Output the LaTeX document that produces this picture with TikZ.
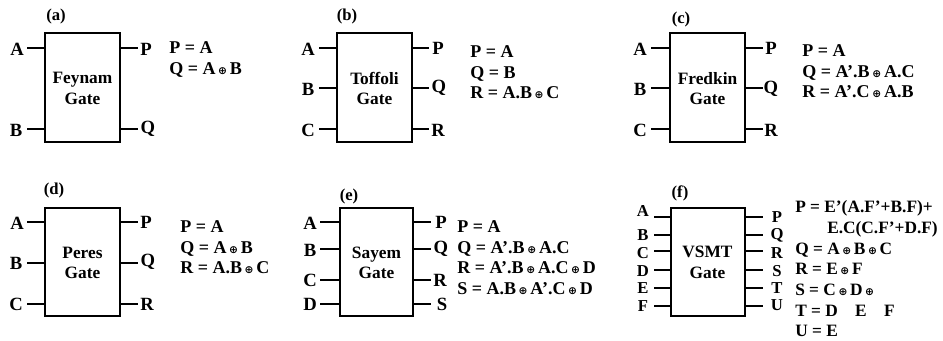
\documentclass[tikz,border=0pt]{standalone}
\usepackage{fontspec}
\setmainfont{Liberation Serif}[BoldFont={Liberation Serif Bold}]
\newfontfamily\symf{DejaVu Sans}
\newcommand{\xo}{\kern.15em{\symf\fontsize{8pt}{8pt}\selectfont ⊕}\kern.15em}
\tikzset{
  gatebox/.style={draw,line width=1.5pt,inner sep=0pt},
  wire/.style={line width=1.5pt},
  port/.style={font=\bfseries\fontsize{14pt}{14pt}\selectfont,inner sep=0pt},
  tightport/.style={font=\bfseries\fontsize{12.5pt}{12.5pt}\selectfont,inner sep=0pt},
  tag/.style={font=\bfseries\fontsize{12.5pt}{13pt}\selectfont,inner sep=0pt},
  gatename/.style={font=\bfseries\fontsize{13pt}{15.5pt}\selectfont,align=center,inner sep=0pt},
  eqn/.style={font=\bfseries\fontsize{13.5pt}{15.5pt}\selectfont,align=left,anchor=north west,inner sep=0pt},
}
\begin{document}
\begin{tikzpicture}[x=0.75pt,y=-0.75pt]
\useasboundingbox (0,0) rectangle (943,341);
% (a)
\node[tag] (ta) at (56,16) {(a)};
\draw[gatebox] (45,33) rectangle (120,142);
\node[gatename] (na) at (82.5,88.5) {Feynam\\Gate};
\node[port] (aA) at (17,49) {A}; \node[port] (aB) at (16,130) {B};
\node[port] (aP) at (146,49) {P}; \node[port] (aQ) at (148,129) {Q};
\draw[wire] (27,48)--(45,48); \draw[wire] (27,129)--(45,129);
\draw[wire] (120,48)--(138,48); \draw[wire] (120,129)--(138,129);
\node[eqn] (ea) at (169,41.5) {P = A\\Q = A\xo B};
% (b)
\node[tag] (tb) at (347,16) {(b)};
\draw[gatebox] (337,33) rectangle (412,142);
\node[gatename] (nb) at (374.5,88.5) {Toffoli\\Gate};
\node[port] (bA) at (308,49) {A}; \node[port] (bB) at (308,89) {B}; \node[port] (bC) at (308,130) {C};
\node[port] (bP) at (438,48) {P}; \node[port] (bQ) at (439,88) {Q}; \node[port] (bR) at (438,130) {R};
\foreach \y in {48,88,129}{\draw[wire] (319,\y)--(337,\y); \draw[wire] (412,\y)--(429,\y);}
\node[eqn] (eb) at (470,45.5) {P = A\\Q = B\\R = A.B\xo C};
% (c)
\node[tag] (tc) at (681,19) {(c)};
\draw[gatebox] (670,33) rectangle (744.5,142.5);
\node[gatename] (nc) at (707.5,88.5) {Fredkin\\Gate};
\node[port] (cA) at (640,49) {A}; \node[port] (cB) at (640,89) {B}; \node[port] (cC) at (640,130) {C};
\node[port] (cP) at (771,48) {P}; \node[port] (cQ) at (771,89) {Q}; \node[port] (cR) at (771,130) {R};
\foreach \y in {48,88,129}{\draw[wire] (651,\y)--(670,\y); \draw[wire] (744.5,\y)--(763,\y);}
\node[eqn] (ec) at (802,44.5) {P = A\\Q = A'.B\xo A.C\\R = A'.C\xo A.B};
% (d)
\node[tag] (td) at (54,190) {(d)};
\draw[gatebox] (45,208) rectangle (120,316);
\node[gatename] (nd) at (82.5,263) {Peres\\Gate};
\node[port] (dA) at (17,223) {A}; \node[port] (dB) at (16,263) {B}; \node[port] (dC) at (16,304) {C};
\node[port] (dP) at (146,222) {P}; \node[port] (dQ) at (148,262) {Q}; \node[port] (dR) at (147,304) {R};
\foreach \y in {222,263,304}{\draw[wire] (27,\y)--(45,\y); \draw[wire] (120,\y)--(138,\y);}
\node[eqn] (ed) at (180,220.5) {P = A\\Q = A\xo B\\R = A.B\xo C};
% (e)
\node[tag] (te) at (349,196) {(e)};
\draw[gatebox] (339.5,208) rectangle (413,316);
\node[gatename] (ne) at (376.5,263) {Sayem\\Gate};
\node[port] (eA) at (310,223) {A}; \node[port] (eB) at (310,250) {B}; \node[port] (eC) at (310,280) {C}; \node[port] (eD) at (310,304) {D};
\node[port] (eP) at (441,222) {P}; \node[port] (eQ) at (441,249) {Q}; \node[port] (eR) at (440,280) {R}; \node[port] (eS) at (442,304) {S};
\foreach \y in {222,249,280,304}{\draw[wire] (320,\y)--(339.5,\y); \draw[wire] (413,\y)--(431,\y);}
\node[eqn] (ee) at (457,220.5) {P = A\\Q = A'.B\xo A.C\\R = A'.B\xo A.C\xo D\\S = A.B\xo A'.C\xo D};
% (f)
\node[tag] (tf) at (680,193) {(f)};
\draw[gatebox] (671,208) rectangle (745,316);
\node[gatename] (nf) at (707.5,262.5) {VSMT\\Gate};
\node[tightport] (fA) at (643,211) {A}; \node[tightport] (fB) at (643,235) {B}; \node[tightport] (fC) at (643,253) {C}; \node[tightport] (fD) at (643,271) {D}; \node[tightport] (fE) at (643,288) {E}; \node[tightport] (fF) at (643,306) {F};
\node[tightport] (fP) at (777,217) {P}; \node[tightport] (fQ) at (777,235) {Q}; \node[tightport] (fR) at (777,253) {R}; \node[tightport] (fS) at (777,271) {S}; \node[tightport] (fT) at (777,288) {T}; \node[tightport] (fU) at (777,305) {U};
\foreach \y in {217,235,251,270,288,306}{\draw[wire] (654,\y)--(671,\y); \draw[wire] (745,\y)--(763,\y);}
\node[eqn,font=\bfseries\fontsize{13pt}{15.5pt}\selectfont] (ef) at (795,200.5) {P = E'(A.F'+B.F)+\\\hspace*{24pt}E.C(C.F'+D.F)\\Q = A\xo B\xo C\\R = E\xo F\\S = C\xo D\xo\\T = D\quad E\quad F\\U = E};
\end{tikzpicture}
\end{document}
